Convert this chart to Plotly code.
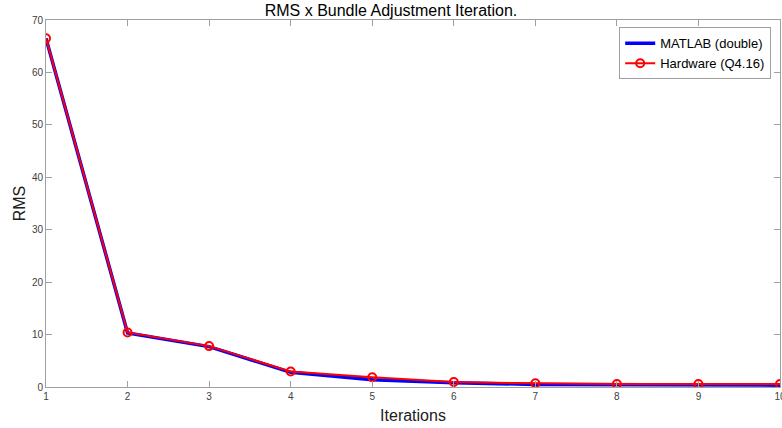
import plotly.graph_objects as go

iterations = [1, 2, 3, 4, 5, 6, 7, 8, 9, 10]
matlab_rms = [66.5, 10.3, 7.7, 2.8, 1.4, 0.8, 0.5, 0.4, 0.35, 0.35]
hardware_rms = [66.5, 10.4, 7.8, 2.95, 1.85, 0.95, 0.7, 0.55, 0.55, 0.55]
x_ticks = [1, 2, 3, 4, 5, 6, 7, 8, 9, 10]
y_ticks = [0, 10, 20, 30, 40, 50, 60, 70]

fig = go.Figure()
fig.add_trace(go.Scatter(x=iterations, y=matlab_rms, mode="lines",
                         name="MATLAB (double)",
                         line=dict(color="#0000ff", width=3.5)))
fig.add_trace(go.Scatter(x=iterations, y=hardware_rms, mode="lines+markers",
                         name="Hardware (Q4.16)",
                         line=dict(color="#ff0000", width=2),
                         marker=dict(symbol="circle-open", size=8, color="#ff0000",
                                     line=dict(width=2, color="#ff0000"))))

axis_common = dict(showgrid=False, zeroline=False, showline=True, linecolor="#a0a0a0",
                   linewidth=1, mirror="ticks", ticks="inside", ticklen=6,
                   tickcolor="#a0a0a0", automargin=False, ticklabeloverflow="allow",
                   tickfont=dict(family="Liberation Sans, Arial", size=10, color="#404040"))

fig.update_layout(
    width=782, height=428,
    margin=dict(l=46, r=2, t=20, b=41),
    paper_bgcolor="white", plot_bgcolor="white",
    title=dict(text="RMS x Bundle Adjustment Iteration.", x=0.5, xanchor="center",
               y=0.988, yanchor="top", automargin=False,
               font=dict(family="Liberation Sans, Arial", size=16, color="#000000")),
    xaxis=dict(range=[1, 10], tickvals=x_ticks,
               title=dict(text="Iterations", standoff=8,
                          font=dict(family="Liberation Sans, Arial", size=16, color="#202020")),
               **axis_common),
    yaxis=dict(range=[0, 70], tickvals=y_ticks,
               title=dict(text="RMS", standoff=2,
                          font=dict(family="Liberation Sans, Arial", size=16, color="#202020")),
               **axis_common),
    legend=dict(x=0.988, y=0.98, xanchor="right", yanchor="top",
                bgcolor="white", bordercolor="#a0a0a0", borderwidth=1,
                font=dict(family="Liberation Sans, Arial", size=13, color="#000000"),
                tracegroupgap=0, itemwidth=30),
    showlegend=True,
)

fig.write_html("out.html", config={"displayModeBar": False},
               post_script="document.body.style.margin='0';document.body.style.overflow='hidden';")
